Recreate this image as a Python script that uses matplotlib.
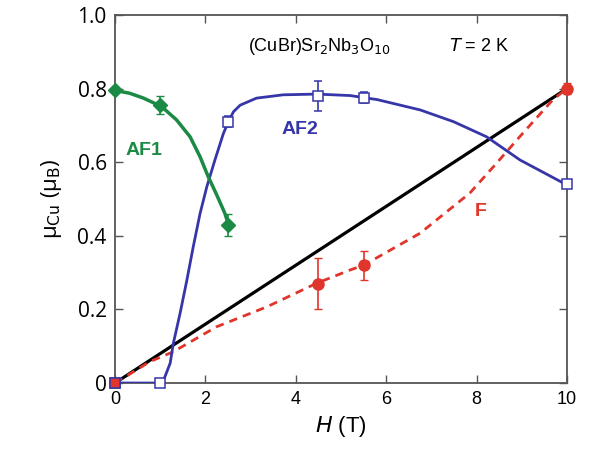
import matplotlib
matplotlib.use("Agg")
import matplotlib.pyplot as plt

# measured points
af1_H = [0, 1, 2.5]
af1_mu = [0.795, 0.755, 0.43]
af1_err = [0, 0.025, 0.03]
af1_curve_H = [0, 0.33, 0.63, 1.03, 1.36, 1.66, 1.88, 2.06, 2.25, 2.43, 2.5]
af1_curve_mu = [0.795, 0.787, 0.774, 0.751, 0.715, 0.669, 0.615, 0.561, 0.511, 0.461, 0.434]

af2_H = [0, 1, 2.5, 4.5, 5.5, 10]
af2_mu = [0, 0, 0.71, 0.78, 0.775, 0.54]
af2_err = [0, 0, 0.015, 0.04, 0.015, 0.01]
af2_curve_H = [0, 1.05, 1.22, 1.29, 1.44, 1.59, 1.73, 1.88, 2.03, 2.21, 2.40, 2.51, 2.62, 2.77,
               3.13, 3.72, 4.46, 5.2, 5.8, 6.75, 7.49, 8.22, 8.96, 10]
af2_curve_mu = [0, 0, 0.054, 0.108, 0.19, 0.28, 0.37, 0.46, 0.533, 0.606, 0.679, 0.71, 0.737, 0.755,
                0.774, 0.783, 0.785, 0.781, 0.77, 0.742, 0.71, 0.669, 0.606, 0.538]

f_H = [0, 4.5, 5.5, 10]
f_mu = [0, 0.27, 0.32, 0.80]
f_err = [0, 0.07, 0.04, 0.015]
f_curve_H = [0, 0.77, 1.29, 2.25, 3.36, 4.46, 5.2, 5.5, 6.75, 7.85, 8.44, 8.96, 9.69, 10]
f_curve_mu = [0, 0.058, 0.085, 0.153, 0.207, 0.271, 0.307, 0.32, 0.407, 0.516, 0.597, 0.67, 0.77, 0.80]

lin_H = [0, 10]
lin_mu = [0, 0.8]

green = "#1a8a45"
blue = "#3636a8"
red = "#e0352b"

fig = plt.figure(figsize=(5.9, 4.53), dpi=100)
ax = fig.add_axes([0.195, 0.1545, 0.766, 0.8125])

ax.plot(lin_H, lin_mu, color="black", lw=2.3, zorder=2)
ax.plot(f_curve_H, f_curve_mu, color=red, lw=2.0, ls=(0, (3, 2.2)), zorder=2)
ax.plot(af2_curve_H, af2_curve_mu, color=blue, lw=2.0, zorder=3, solid_joinstyle="round")
ax.plot(af1_curve_H, af1_curve_mu, color=green, lw=2.5, zorder=3, solid_joinstyle="round")

ax.errorbar(af1_H, af1_mu, yerr=af1_err, fmt="D", color=green, ms=7, capsize=3, elinewidth=1.2, zorder=5, clip_on=False)
ax.errorbar(af2_H, af2_mu, yerr=af2_err, fmt="s", color=blue, mfc="white", mec=blue, ms=7.5, mew=1.1, capsize=3, elinewidth=1.2, zorder=5, clip_on=False)
ax.errorbar(f_H[1:], f_mu[1:], yerr=f_err[1:], fmt="o", color=red, ms=8, capsize=3, elinewidth=1.2, zorder=6, clip_on=False)
ax.plot([f_H[0]], [f_mu[0]], "s", color=red, mec=blue, ms=7.5, mew=1.1, zorder=7, clip_on=False)

ax.set_xlim(0, 10)
ax.set_ylim(0, 1.0)
ax.set_xticks([0, 2, 4, 6, 8, 10])
ax.set_xticklabels(["0", "2", "4", "6", "8", "10"], fontfamily="Liberation Sans", fontsize=13)
ax.set_yticks([0, 0.2, 0.4, 0.6, 0.8, 1.0])
ax.set_yticklabels(["0", "0.2", "0.4", "0.6", "0.8", "1.0"], fontfamily="Open Sans", fontsize=15)
ax.tick_params(direction="in", top=True, right=True, length=6, width=1, color="#555555", pad=6)
for s in ax.spines.values():
    s.set_color("#555555")
    s.set_linewidth(1.3)

ax.set_xlabel(r"$\mathit{H}$ (T)", fontsize=16, fontfamily="Liberation Sans", labelpad=4)
ax.set_ylabel(r"μ$_{\mathrm{Cu}}$ (μ$_{\mathrm{B}}$)", fontsize=16, fontfamily="Open Sans", labelpad=10)

ax.text(0.65, 0.633, "AF1", color=green, fontsize=14, fontweight="bold", fontfamily="Liberation Sans", ha="center", va="center")
ax.text(4.1, 0.69, "AF2", color=blue, fontsize=14, fontweight="bold", fontfamily="Liberation Sans", ha="center", va="center")
ax.text(8.1, 0.465, "F", color=red, fontsize=14, fontweight="bold", fontfamily="Liberation Sans", ha="center", va="center")

ax.text(2.95, 0.915, r"(CuBr)Sr$_2$Nb$_3$O$_{10}$", fontsize=13, fontfamily="Liberation Sans", ha="left", va="center")
ax.text(7.4, 0.915, r"$\mathit{T}$ = 2 K", fontsize=13, fontfamily="Liberation Sans", ha="left", va="center")

fig.savefig("out.png", dpi=100)
